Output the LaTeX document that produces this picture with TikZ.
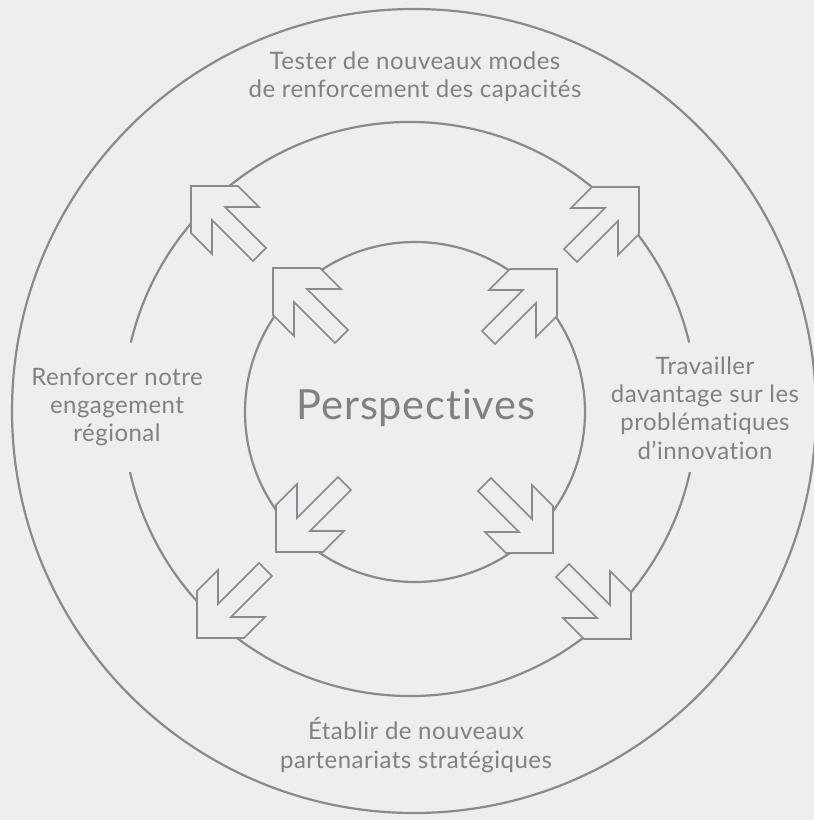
\documentclass[tikz,border=0pt]{standalone}
\usepackage{fontspec}
\setmainfont{Lato}[Ligatures=NoCommon,LetterSpace=2]
\usepackage{tikz}
\definecolor{bgc}{HTML}{EEEEEE}
\definecolor{linec}{HTML}{8A8A8E}
\definecolor{txtc}{HTML}{808085}
\newcommand{\blockarr}[4]{\draw[arr,shift={(#1,#2)},xscale=#3,yscale=#4] (0,0) -- (47,0) -- (68,21) -- (34,21) -- (75,62) -- (62,75) -- (21,34) -- (21,68) -- (0,47) -- cycle;}

\begin{document}
\begin{tikzpicture}[x=1pt,y=-1pt,
  ring/.style={draw=linec,line width=2.2pt},
  arr/.style={draw=linec,fill=bgc,line width=1.6pt,line join=miter},
  lbl/.style={text=txtc,align=center,inner sep=0pt,font=\fontsize{24}{28.4}\selectfont}]
  \clip (0,0) rectangle (814,820);
  \fill[bgc] (0,0) rectangle (814,820);

  \coordinate (outer) at (414,411);
  \coordinate (mid) at (410,409);
  \coordinate (inner) at (415,412);

  \draw[ring] (outer) circle[radius=402];
  \draw[ring] ([shift={(12.7:287)}]mid) arc[start angle=12.7,end angle=167.3,radius=287];
  \draw[ring] ([shift={(193.4:287)}]mid) arc[start angle=193.4,end angle=346.6,radius=287];
  \draw[ring] (inner) circle[radius=170];

  \blockarr{191}{186}{1}{1}
  \blockarr{639}{187}{-1}{1}
  \blockarr{197}{638}{1}{-1}
  \blockarr{631}{639}{-1}{-1}
  \blockarr{273}{268}{1}{1}
  \blockarr{557}{269}{-1}{1}
  \blockarr{276}{552}{1}{-1}
  \blockarr{553}{553}{-1}{-1}

  \node at (416,408) [lbl,font=\fontsize{41.5}{48}\selectfont] (persp) {Perspectives};
  \node at (415,77) [lbl] (test) {Tester de nouveaux modes\\de renforcement des capacités};
  \node at (117,407) [lbl] (renf) {Renforcer notre\\engagement\\régional};
  \node at (705,408) [lbl] (trav) {Travailler\\davantage sur les\\problématiques\\d’innovation};
  \node at (416,745) [lbl] (etab) {Établir de nouveaux\\partenariats stratégiques};
\end{tikzpicture}
\end{document}
